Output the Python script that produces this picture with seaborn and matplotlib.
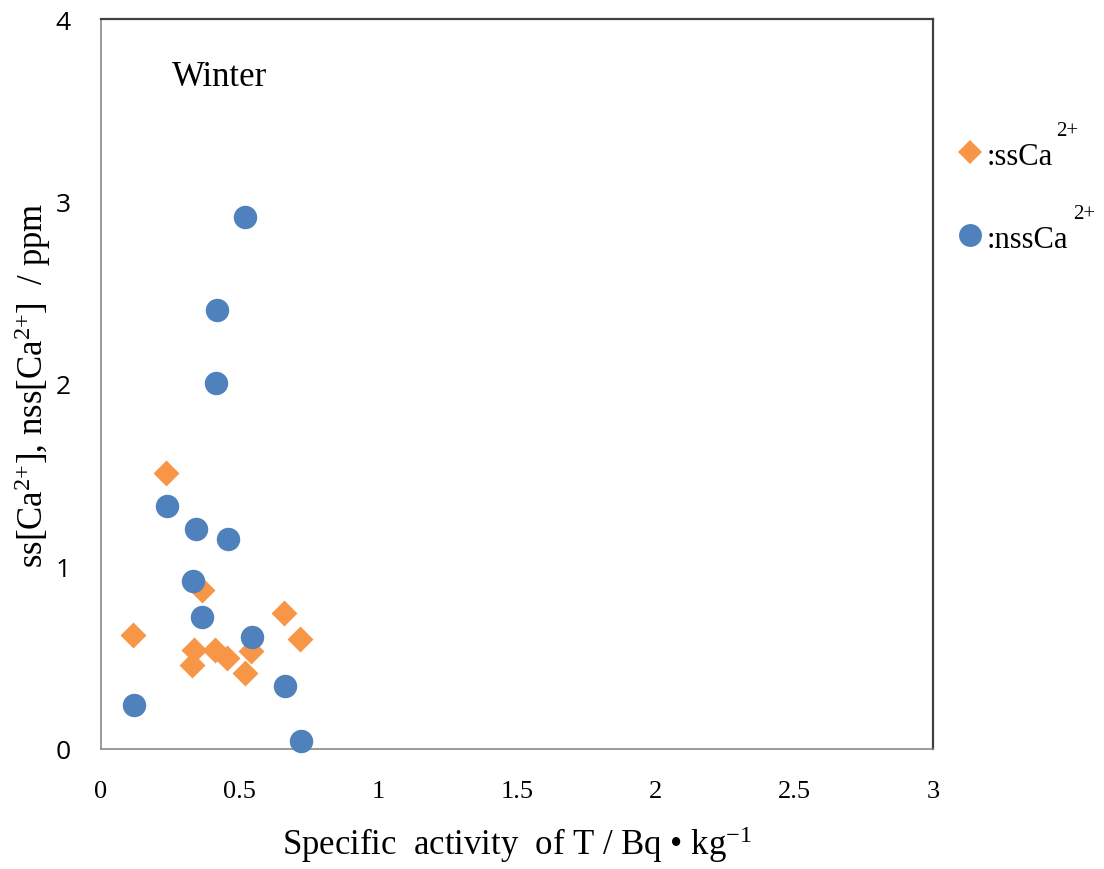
import matplotlib
matplotlib.use("Agg")
import matplotlib.pyplot as plt
from matplotlib.lines import Line2D
import seaborn as sns
import pandas as pd

# Sea-salt calcium (ssCa2+) against tritium specific activity
ss_activity = [0.116, 0.236, 0.327, 0.336, 0.363, 0.411, 0.456, 0.518, 0.540, 0.659, 0.719]
ss_ca = [0.623, 1.512, 0.459, 0.543, 0.870, 0.543, 0.501, 0.419, 0.537, 0.743, 0.601]

# Non-sea-salt calcium (nssCa2+) against tritium specific activity
nss_activity = [0.119, 0.239, 0.331, 0.341, 0.363, 0.414, 0.417, 0.459, 0.518, 0.543, 0.663, 0.722]
nss_ca = [0.242, 1.333, 0.922, 1.206, 0.725, 2.005, 2.408, 1.151, 2.913, 0.612, 0.346, 0.044]

x_ticks = [0, 0.5, 1, 1.5, 2, 2.5, 3]
x_tick_labels = ["0", "0.5", "1", "1.5", "2", "2.5", "3"]
y_ticks = [0, 1, 2, 3, 4]
y_tick_labels = ["0", "1", "2", "3", "4"]

legend_labels = [":ssCa", ":nssCa"]
legend_charge = "2+"

ORANGE = "#F79646"
BLUE = "#4F81BD"

sns.set_theme(style="white")
plt.rcParams["font.family"] = ["Liberation Serif", "DejaVu Serif"]
plt.rcParams["mathtext.fontset"] = "custom"
plt.rcParams["mathtext.rm"] = "Liberation Serif"
plt.rcParams["mathtext.it"] = "Liberation Serif:italic"
plt.rcParams["mathtext.bf"] = "Liberation Serif:bold"
plt.rcParams["text.color"] = "black"
plt.rcParams["axes.labelcolor"] = "black"

df = pd.concat([
    pd.DataFrame({"activity": ss_activity, "ca": ss_ca, "ion": "ss"}),
    pd.DataFrame({"activity": nss_activity, "ca": nss_ca, "ion": "nss"}),
], ignore_index=True)

W, H = 1104, 870
fig = plt.figure(figsize=(W / 100, H / 100), dpi=100)
ax = fig.add_axes([101 / W, 120 / H, 832 / W, 730 / H])

sns.scatterplot(
    data=df[df.ion == "ss"], x="activity", y="ca", marker="D", color=ORANGE,
    s=175, linewidth=0, ax=ax, zorder=3, legend=False, clip_on=False,
)
sns.scatterplot(
    data=df[df.ion == "nss"], x="activity", y="ca", marker="o", color=BLUE,
    s=285, linewidth=0, ax=ax, zorder=4, legend=False, clip_on=False,
)

ax.set_xlim(0, 3)
ax.set_ylim(0, 4)
ax.set_xticks(x_ticks)
ax.set_xticklabels(x_tick_labels, fontsize=19, family="Liberation Serif")
ax.set_yticks(y_ticks)
ax.set_yticklabels(y_tick_labels, fontsize=19, family=["Open Sans", "DejaVu Sans"])
ax.tick_params(axis="both", direction="in", length=7, width=1.0, colors="#898989",
               labelcolor="black")
ax.tick_params(axis="x", pad=22)
ax.tick_params(axis="y", pad=22)

for side in ("left", "bottom"):
    ax.spines[side].set_color("#898989")
    ax.spines[side].set_linewidth(1.2)
for side in ("top", "right"):
    ax.spines[side].set_color("#404040")
    ax.spines[side].set_linewidth(1.6)

ax.set_xlabel("Specific  activity  of T / Bq • kg$^{{-}1}$", fontsize=25, labelpad=16)
ax.set_ylabel("ss[Ca$^{2{+}}$], nss[Ca$^{2{+}}$]  / ppm", fontsize=25, labelpad=2)

ax.text(0.085, 0.91, "Winter", transform=ax.transAxes, fontsize=25,
        ha="left", va="baseline")

# Legend keys placed to the right of the plotting area
def px(x, y):
    return x / W, 1 - y / H

key_specs = [
    ("D", ORANGE, 12.5, 153, legend_labels[0], 165, 1056, 136),
    ("o", BLUE, 16.5, 236, legend_labels[1], 248, 1073, 219),
]
for marker, color, ms, ky, label, base, sx, sbase in key_specs:
    fig.add_artist(Line2D([970 / W], [1 - ky / H], transform=fig.transFigure,
                          marker=marker, color=color, markersize=ms,
                          markeredgewidth=0, linestyle="none"))
    fig.text(*px(987, base), label, fontsize=22, ha="left", va="baseline")
    fig.text(*px(sx, sbase), legend_charge, fontsize=15, ha="left", va="baseline")

fig.savefig("out.png", dpi=100)
